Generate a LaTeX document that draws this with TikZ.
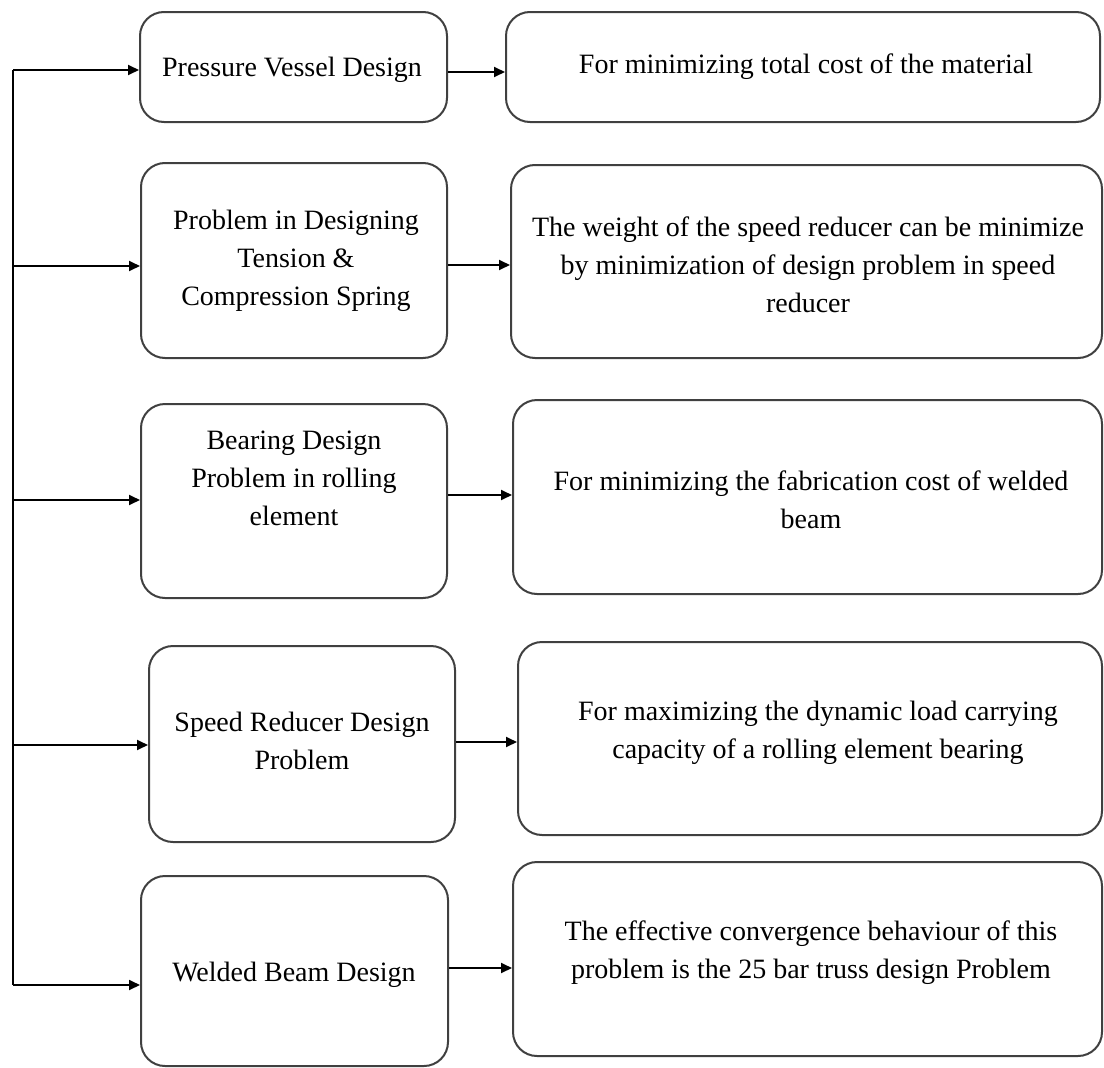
\documentclass[tikz,border=0pt]{standalone}
\usepackage{fontspec}
\setmainfont{Liberation Serif}
\usetikzlibrary{arrows.meta}
\begin{document}
\begin{tikzpicture}[x=1pt,y=-1pt,
  box/.style={draw=black!75, line width=2pt, rounded corners=24pt, inner sep=0pt},
  txt/.style={align=center, font=\fontsize{28}{38}\selectfont, inner sep=0pt},
  wire/.style={line width=1.8pt, black},
  arr/.style={wire, -{Triangle[length=11pt,width=10pt]}}]
\useasboundingbox (0,0) rectangle (1104,1068);

% left column: design problems
\node[box, minimum width=307pt, minimum height=110pt] (L1) at (293.5,67) {};
\node[box, minimum width=306pt, minimum height=195pt] (L2) at (294,260.5) {};
\node[box, minimum width=306pt, minimum height=194pt] (L3) at (294,501) {};
\node[box, minimum width=306pt, minimum height=196pt] (L4) at (302,744) {};
\node[box, minimum width=307pt, minimum height=190pt] (L5) at (294.5,971) {};

\node[txt] (tL1) at (292,70) {Pressure Vessel Design};
\node[txt] (tL2) at (296,261) {Problem in Designing\\Tension \&\\Compression Spring};
\node[txt] (tL3) at (294,478) {Bearing Design\\Problem in rolling\\element};
\node[txt] (tL4) at (302,741) {Speed Reducer Design\\Problem};
\node[txt] (tL5) at (294,975) {Welded Beam Design};

% right column: descriptions
\node[box, minimum width=594pt, minimum height=110pt] (R1) at (803,67) {};
\node[box, minimum width=591pt, minimum height=193pt] (R2) at (806.5,261.5) {};
\node[box, minimum width=589pt, minimum height=194pt] (R3) at (807.5,497) {};
\node[box, minimum width=584pt, minimum height=193pt] (R4) at (810,738.5) {};
\node[box, minimum width=589pt, minimum height=194pt] (R5) at (807.5,959) {};

\node[txt] (tR1) at (806,67) {For minimizing total cost of the material};
\node[txt] (tR2) at (808,265) {The weight of the speed reducer can be minimize\\by minimization of design problem in speed\\reducer};
\node[txt] (tR3) at (811,500) {For minimizing the fabrication cost of welded\\beam};
\node[txt] (tR4) at (818,733) {For maximizing the dynamic load carrying\\capacity of a rolling element bearing};
\node[txt] (tR5) at (811,953) {The effective convergence behaviour of this\\problem is the 25 bar truss design Problem};

% trunk line on the left
\coordinate (t1) at (13,70);
\coordinate (t2) at (13,266);
\coordinate (t3) at (13,500);
\coordinate (t4) at (13,745);
\coordinate (t5) at (13,985);
\draw[wire] (t1) -- (t5);
\draw[arr] (t1) -- (t1 -| L1.west);
\draw[arr] (t2) -- (t2 -| L2.west);
\draw[arr] (t3) -- (t3 -| L3.west);
\draw[arr] (t4) -- (t4 -| L4.west);
\draw[arr] (t5) -- (t5 -| L5.west);

% links from problems to descriptions
\draw[arr] (L1.east |- 0,72) -- (R1.west |- 0,72);
\draw[arr] (L2.east |- 0,265) -- (R2.west |- 0,265);
\draw[arr] (L3.east |- 0,495) -- (R3.west |- 0,495);
\draw[arr] (L4.east |- 0,742) -- (R4.west |- 0,742);
\draw[arr] (L5.east |- 0,968) -- (R5.west |- 0,968);
\end{tikzpicture}
\end{document}
